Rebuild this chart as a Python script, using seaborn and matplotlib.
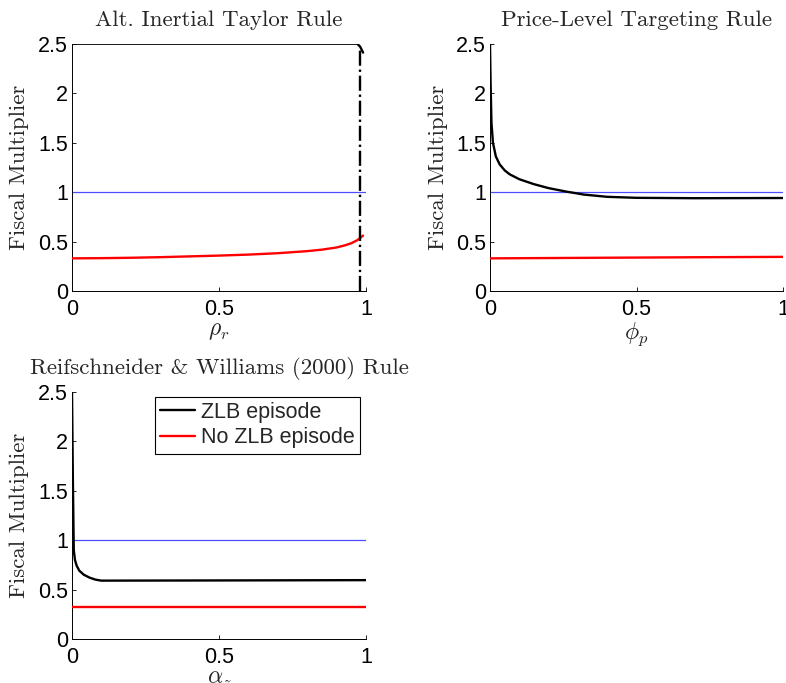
import matplotlib
matplotlib.use("Agg")
import matplotlib.pyplot as plt
import seaborn as sns
import pandas as pd

# ---- data -------------------------------------------------------------
# Alt. inertial Taylor rule (rho_r)
rho_zlb_x = [0.0, 0.2, 0.4, 0.6, 0.8, 0.97, 0.98, 0.99]
rho_zlb_y = [2.5, 2.5, 2.5, 2.5, 2.5, 2.5, 2.47, 2.41]
rho_nozlb_x = [0.0, 0.1, 0.2, 0.3, 0.4, 0.5, 0.6, 0.7, 0.8, 0.85, 0.9, 0.93, 0.95, 0.97, 0.99]
rho_nozlb_y = [0.33, 0.332, 0.336, 0.342, 0.35, 0.358, 0.368, 0.382, 0.403, 0.418, 0.44,
               0.463, 0.483, 0.513, 0.56]
rho_bound = 0.98
rho_bound_top = 2.46

# Price-level targeting rule (phi_p)
phi_zlb_x = [0.0, 0.002, 0.005, 0.01, 0.02, 0.033, 0.05, 0.067, 0.1, 0.15, 0.2, 0.26,
             0.32, 0.4, 0.5, 0.7, 1.0]
phi_zlb_y = [2.5, 2.1, 1.7, 1.5, 1.36, 1.28, 1.22, 1.18, 1.13, 1.08, 1.04, 1.005,
             0.975, 0.952, 0.942, 0.938, 0.94]
phi_nozlb_x = [0.0, 0.25, 0.5, 0.75, 1.0]
phi_nozlb_y = [0.33, 0.334, 0.338, 0.342, 0.345]

# Reifschneider & Williams (2000) rule (alpha_z)
alpha_zlb_x = [0.0, 0.003, 0.006, 0.01, 0.016, 0.025, 0.04, 0.06, 0.08, 0.1, 0.5, 1.0]
alpha_zlb_y = [2.5, 1.6, 0.9, 0.8, 0.74, 0.69, 0.65, 0.62, 0.60, 0.59, 0.592, 0.595]
alpha_nozlb_x = [0.0, 0.5, 1.0]
alpha_nozlb_y = [0.327, 0.327, 0.327]

reference_level = 1.0
y_ticks = [0, 0.5, 1, 1.5, 2, 2.5]
y_ticklabels = ["0", "0.5", "1", "1.5", "2", "2.5"]
x_ticks = [0, 0.5, 1]
x_ticklabels = ["0", "0.5", "1"]

titles = ["Alt. Inertial Taylor Rule", "Price-Level Targeting Rule",
          "Reifschneider & Williams (2000) Rule"]
xlabels = [r"$\rho_r$", r"$\phi_p$", r"$\alpha_z$"]
ylabel = "Fiscal Multiplier"
legend_labels = ["ZLB episode", "No ZLB episode"]

# ---- style ------------------------------------------------------------
sns.set_style("white")
plt.rcParams["font.family"] = ["Liberation Sans", "DejaVu Sans"]
plt.rcParams["mathtext.fontset"] = "cm"
plt.rcParams["axes.unicode_minus"] = False

fig = plt.figure(figsize=(7.86, 6.83), dpi=100)
W, H = 786.0, 683.0


def make_axes(x0, x1, ytop, ybot):
    return fig.add_axes([x0 / W, 1 - ybot / H, (x1 - x0) / W, (ybot - ytop) / H])


ax1 = make_axes(72, 366, 43.7, 291)
ax2 = make_axes(490, 783, 43.7, 291)
ax3 = make_axes(72, 366, 391.7, 639)

panels = [
    (ax1, rho_zlb_x, rho_zlb_y, rho_nozlb_x, rho_nozlb_y),
    (ax2, phi_zlb_x, phi_zlb_y, phi_nozlb_x, phi_nozlb_y),
    (ax3, alpha_zlb_x, alpha_zlb_y, alpha_nozlb_x, alpha_nozlb_y),
]

serif = "cmr10"

for i, (ax, zx, zy, nx, ny) in enumerate(panels):
    ax.axhline(reference_level, color=(0.3, 0.3, 1.0), lw=0.9, zorder=1)
    sns.lineplot(data=pd.DataFrame({"x": zx, "y": zy}), x="x", y="y", ax=ax,
                 color="black", lw=1.7, label=legend_labels[0], sort=False,
                 estimator=None, zorder=3)
    sns.lineplot(data=pd.DataFrame({"x": nx, "y": ny}), x="x", y="y", ax=ax,
                 color="red", lw=1.7, label=legend_labels[1], sort=False,
                 estimator=None, zorder=3)
    ax.set_xlim(0, 1)
    ax.set_ylim(0, 2.5)
    ax.set_xticks(x_ticks)
    ax.set_yticks(y_ticks)
    ax.set_xticklabels(x_ticklabels)
    ax.set_yticklabels(y_ticklabels)
    ax.tick_params(direction="in", length=3, width=0.6, labelsize=15.5,
                   bottom=True, left=True, colors="black")
    ax.tick_params(axis="y", pad=3)
    ax.tick_params(axis="x", pad=6)
    for s in ["top", "right"]:
        ax.spines[s].set_visible(False)
    for s in ["left", "bottom"]:
        ax.spines[s].set_linewidth(0.7)
        ax.spines[s].set_color("black")
    ax.set_title(titles[i], fontname=serif, fontsize=16.5, pad=13)
    ax.set_ylabel(ylabel, fontname=serif, fontsize=16.5, labelpad=6)
    ax.set_xlabel(xlabels[i], fontsize=17, labelpad=0)
    if i < 2:
        ax.get_legend().remove()

ax1.vlines(rho_bound, 0, rho_bound_top, colors="black", linestyles="-.", lw=1.7, zorder=4)

leg = ax3.legend(loc="upper right", bbox_to_anchor=(0.98, 0.98), fontsize=15.5,
                 frameon=True, fancybox=False, edgecolor="black", framealpha=1,
                 handlelength=1.6, handletextpad=0.3, borderpad=0.25,
                 labelspacing=0.2, borderaxespad=0)
leg.get_frame().set_linewidth(0.8)

fig.savefig("out.png", dpi=100, facecolor="white")
